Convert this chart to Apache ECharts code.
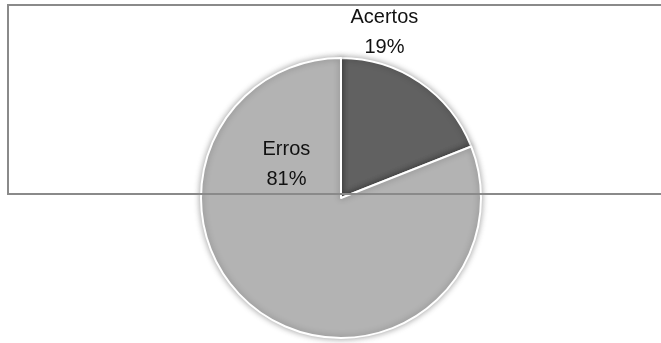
<!DOCTYPE html>
<html>
<head>
<meta charset="utf-8">
<script src="https://cdn.jsdelivr.net/npm/echarts@6/dist/echarts.min.js"></script>
<style>
html, body { margin: 0; padding: 0; background: #fff; }
#chart { width: 661px; height: 343px; }
</style>
</head>
<body>
<div id="chart"></div>
<script>
// chart data
let categories = ['Acertos', 'Erros'];
let values = [19, 81];
let colors = ['#616161', '#b3b3b3'];

// pie geometry
let CX = 341, CY = 198, R = 140;
// label offsets as fractions of the radius (Excel "best fit" look)
let labelPos = [[0.31, -1.18], [-0.39, -0.24]];

let chart_dom = echarts.init(document.getElementById('chart'));

let option = {
    animation: false,
    backgroundColor: '#ffffff',
    graphic: [{
        type: 'rect',
        z: 100,
        shape: { x: 8, y: 5, width: 700, height: 189 },
        style: { fill: 'none', stroke: '#8a8a8a', lineWidth: 2 }
    }],
    series: [{
        type: 'pie',
        center: [CX, CY],
        radius: [0, R],
        startAngle: 90,
        clockwise: true,
        data: categories.map(function (name, i) {
            return { name: name, value: values[i], itemStyle: { color: colors[i] } };
        }),
        itemStyle: {
            borderColor: '#ffffff',
            borderWidth: 2,
            shadowBlur: 6,
            shadowColor: 'rgba(0,0,0,0.35)'
        },
        label: {
            show: true,
            position: 'inside',
            formatter: function (p) {
                return p.name + '\n' + Math.round(p.percent) + '%';
            },
            fontFamily: 'Liberation Sans',
            fontSize: 20,
            lineHeight: 30,
            color: '#111'
        },
        labelLine: { show: false },
        labelLayout: function (params) {
            let pos = labelPos[params.dataIndex];
            return {
                x: CX + pos[0] * R,
                y: CY + pos[1] * R,
                align: 'center',
                verticalAlign: 'middle'
            };
        }
    }]
};

chart_dom.setOption(option);
</script>
</body>
</html>
